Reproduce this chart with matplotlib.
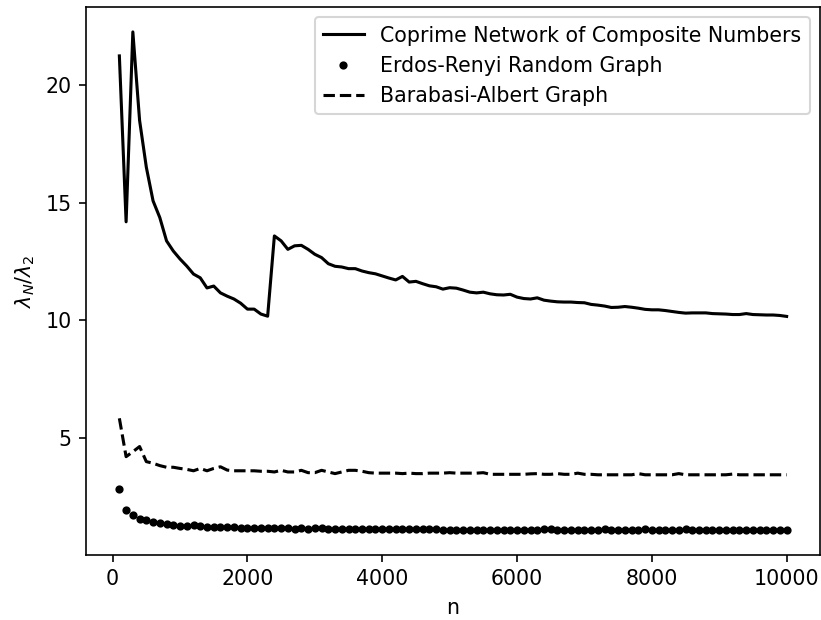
import numpy as np
import matplotlib
matplotlib.use('Agg')
import matplotlib.pyplot as plt

n = np.arange(100, 10001, 100)

coprime = [
    21.23, 14.18, 22.25, 18.49, 16.50, 15.07, 14.36, 13.37, 12.94, 12.60,
    12.30, 11.96, 11.80, 11.37, 11.45, 11.16, 11.02, 10.90, 10.72, 10.47,
    10.47, 10.26, 10.17, 13.58, 13.37, 13.01, 13.16, 13.18, 13.01, 12.80,
    12.66, 12.40, 12.29, 12.26, 12.19, 12.19, 12.09, 12.02, 11.97, 11.88,
    11.79, 11.71, 11.86, 11.62, 11.65, 11.55, 11.46, 11.42, 11.32, 11.38,
    11.36, 11.28, 11.19, 11.16, 11.19, 11.12, 11.08, 11.07, 11.10, 10.98,
    10.92, 10.90, 10.95, 10.85, 10.81, 10.78, 10.77, 10.77, 10.75, 10.74,
    10.67, 10.64, 10.60, 10.54, 10.55, 10.58, 10.55, 10.51, 10.46, 10.44,
    10.44, 10.41, 10.37, 10.33, 10.30, 10.31, 10.31, 10.31, 10.28, 10.27,
    10.26, 10.24, 10.24, 10.28, 10.24, 10.23, 10.22, 10.22, 10.20, 10.16,
]

erdos = [
    2.83, 1.94, 1.74, 1.57, 1.50, 1.43, 1.37, 1.34, 1.30, 1.27,
    1.26, 1.28, 1.24, 1.23, 1.22, 1.21, 1.22, 1.20, 1.19, 1.19,
    1.18, 1.18, 1.18, 1.17, 1.17, 1.16, 1.14, 1.17, 1.13, 1.16,
    1.15, 1.13, 1.13, 1.13, 1.12, 1.12, 1.12, 1.12, 1.12, 1.11,
    1.11, 1.11, 1.11, 1.11, 1.11, 1.11, 1.11, 1.11, 1.10, 1.10,
    1.10, 1.10, 1.10, 1.10, 1.10, 1.10, 1.10, 1.10, 1.10, 1.10,
    1.10, 1.10, 1.08, 1.12, 1.12, 1.08, 1.08, 1.08, 1.08, 1.08,
    1.08, 1.08, 1.11, 1.08, 1.08, 1.08, 1.08, 1.08, 1.11, 1.08,
    1.08, 1.08, 1.08, 1.08, 1.11, 1.08, 1.08, 1.08, 1.08, 1.08,
    1.08, 1.08, 1.08, 1.08, 1.08, 1.08, 1.08, 1.08, 1.08, 1.08,
]

barabasi = [
    5.83, 4.20, 4.41, 4.63, 3.99, 3.92, 3.82, 3.75, 3.75, 3.70,
    3.66, 3.60, 3.70, 3.60, 3.70, 3.77, 3.63, 3.60, 3.60, 3.60,
    3.60, 3.58, 3.58, 3.55, 3.62, 3.55, 3.55, 3.62, 3.52, 3.52,
    3.62, 3.55, 3.48, 3.55, 3.62, 3.62, 3.58, 3.52, 3.50, 3.50,
    3.50, 3.50, 3.48, 3.50, 3.48, 3.48, 3.50, 3.50, 3.50, 3.52,
    3.50, 3.50, 3.50, 3.50, 3.52, 3.45, 3.45, 3.45, 3.45, 3.45,
    3.45, 3.47, 3.48, 3.45, 3.45, 3.48, 3.45, 3.45, 3.50, 3.45,
    3.45, 3.43, 3.43, 3.43, 3.43, 3.43, 3.43, 3.48, 3.43, 3.43,
    3.43, 3.43, 3.43, 3.48, 3.43, 3.43, 3.43, 3.43, 3.43, 3.43,
    3.43, 3.46, 3.43, 3.43, 3.43, 3.43, 3.43, 3.43, 3.43, 3.43,
]

dpi = 148
fig = plt.figure(figsize=(821 / dpi, 620 / dpi), dpi=dpi)
ax = fig.add_axes([86 / 821, 65 / 620, 734 / 821, 548 / 620])

ax.plot(n, coprime, 'k-', label='Coprime Network of Composite Numbers')
ax.plot(n, erdos, 'k.', label='Erdos-Renyi Random Graph')
ax.plot(n, barabasi, 'k--', label='Barabasi-Albert Graph')

ax.set_xlabel('n')
ax.set_ylabel(r'$\lambda_N/\lambda_2$')
ax.legend(loc='upper right')

fig.savefig('out.png', dpi=dpi)
